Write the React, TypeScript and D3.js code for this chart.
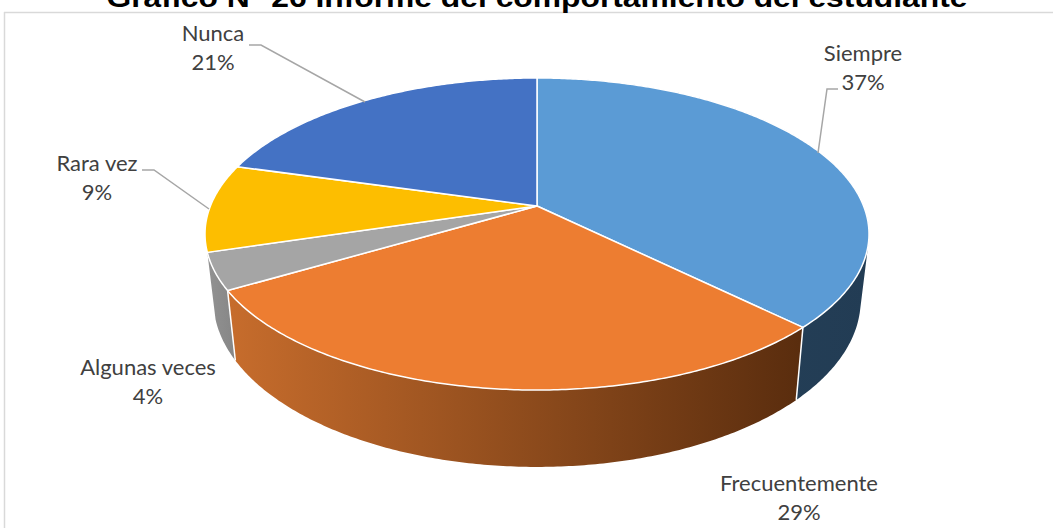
import React from "react";
import * as d3 from "d3";

const categories = ["Siempre", "Frecuentemente", "Algunas veces", "Rara vez", "Nunca"];
const shares = [37.4, 29.1, 3.8, 9.1, 20.6];
const topColors = ["#5B9BD5", "#ED7D31", "#A5A5A5", "#FDBE00", "#4472C4"];
const wallColorsLeft = ["#254058", "#C66C2C", "#939393", "#A67D00", "#2C4A80"];
const wallColorsRight = ["#223C54", "#5A2D0E", "#848484", "#7F6000", "#223962"];
const labelCenters = [
  [863, 61],
  [799, 491],
  [148, 375],
  [97, 171],
  [213, 41],
];
const leaders: (number[][] | null)[] = [
  [[838, 89], [827, 89], [818, 153]],
  null,
  null,
  [[142, 170], [154, 170], [209, 209]],
  [[249, 45], [261, 45], [365, 102]],
];
const titleText = "Gráfico N° 26 Informe del comportamiento del estudiante";

const W = 1053;
const H = 528;
const cx = 537;
const cy = 206;
const tilt = 0.1795;
const rxTop = 326.6;
const ryTop = 151;
const baseScaleX = 0.975;
const baseScaleY = 1.07;
const baseCy = 270;

const planeTop = (a: number): [number, number] => {
  const w = 1 + tilt * Math.cos(a);
  return [cx + (rxTop * Math.sin(a)) / w, cy - (ryTop * Math.cos(a)) / w];
};
const planeBase = (a: number): [number, number] => {
  const w = 1 + tilt * Math.cos(a);
  return [cx + (baseScaleX * rxTop * Math.sin(a)) / w, baseCy - (baseScaleY * ryTop * Math.cos(a)) / w];
};

const sweep = (a0: number, a1: number) => {
  const n = Math.max(2, Math.ceil((a1 - a0) / 0.01));
  return d3.range(n + 1).map((i) => a0 + ((a1 - a0) * i) / n);
};

const arcs = d3
  .pie<number>()
  .sort(null)
  .value((d) => d)(shares);

const line = d3.line();

export default function App() {
  const tops = arcs.map((s) => {
    const pts = sweep(s.startAngle, s.endAngle).map(planeTop);
    return line([[cx, cy], ...pts]) + "Z";
  });
  const walls = arcs.map((s) => {
    const as = sweep(s.startAngle, s.endAngle);
    return d3
      .pairs(as)
      .map(([a, b]) => {
        const q = [planeTop(a), planeTop(b), planeBase(b), planeBase(a)] as [number, number][];
        if (d3.polygonArea(q) < 0) q.reverse();
        return line(q) + "Z";
      })
      .join("");
  });
  const visibleWalls = [2, 0, 1];
  const seams = [arcs[0].endAngle, arcs[1].endAngle];
  return (
    <svg
      width={W}
      height={H}
      viewBox={`0 0 ${W} ${H}`}
      style={{ position: "absolute", left: 0, top: 0, background: "#fff" }}
    >
      <defs>
        {arcs.map((s, i) => (
          <linearGradient
            key={i}
            id={`wall${i}`}
            gradientUnits="userSpaceOnUse"
            x1={i === 1 ? 232 : i === 2 ? 205 : 700}
            x2={i === 1 ? 800 : i === 2 ? 240 : 870}
            y1={0}
            y2={0}
          >
            <stop offset="0" stopColor={wallColorsLeft[i]} />
            <stop offset="1" stopColor={wallColorsRight[i]} />
          </linearGradient>
        ))}
      </defs>
      <line x1={4.5} x2={4.5} y1={12} y2={H} stroke="#D9D9D9" strokeWidth={1.5} />
      <line x1={4} x2={W} y1={12.5} y2={12.5} stroke="#D9D9D9" strokeWidth={1.5} />
      <text
        x={537}
        y={7}
        textAnchor="middle"
        fontFamily="'Liberation Sans', Arial, sans-serif"
        fontWeight={700}
        fontSize={27}
        fill="#000"
        textLength={861}
        lengthAdjust="spacingAndGlyphs"
      >
        {titleText}
      </text>
      {visibleWalls.map((i) => (
        <path key={i} d={walls[i]} fill={`url(#wall${i})`} fillRule="nonzero" />
      ))}
      {seams.map((a, i) => (
        <path
          key={i}
          d={line([planeTop(a), planeBase(a)]) as string}
          stroke="#fff"
          strokeWidth={1.5}
          fill="none"
        />
      ))}
      {tops.map((d, i) => (
        <path key={i} d={d} fill={topColors[i]} stroke="#fff" strokeWidth={1.5} strokeLinejoin="round" />
      ))}
      {leaders.map((l, i) =>
        l ? <path key={i} d={line(l as [number, number][]) as string} fill="none" stroke="#A6A6A6" strokeWidth={1.5} /> : null
      )}
      {categories.map((c, i) => (
        <text
          key={c}
          x={labelCenters[i][0]}
          y={labelCenters[i][1]}
          textAnchor="middle"
          fontFamily="Lato, Carlito, sans-serif"
          fontSize={22}
          fill="#404040"
        >
          <tspan x={labelCenters[i][0]}>{c}</tspan>
          <tspan x={labelCenters[i][0]} dy={29}>{`${Math.round(shares[i])}%`}</tspan>
        </text>
      ))}
    </svg>
  );
}
